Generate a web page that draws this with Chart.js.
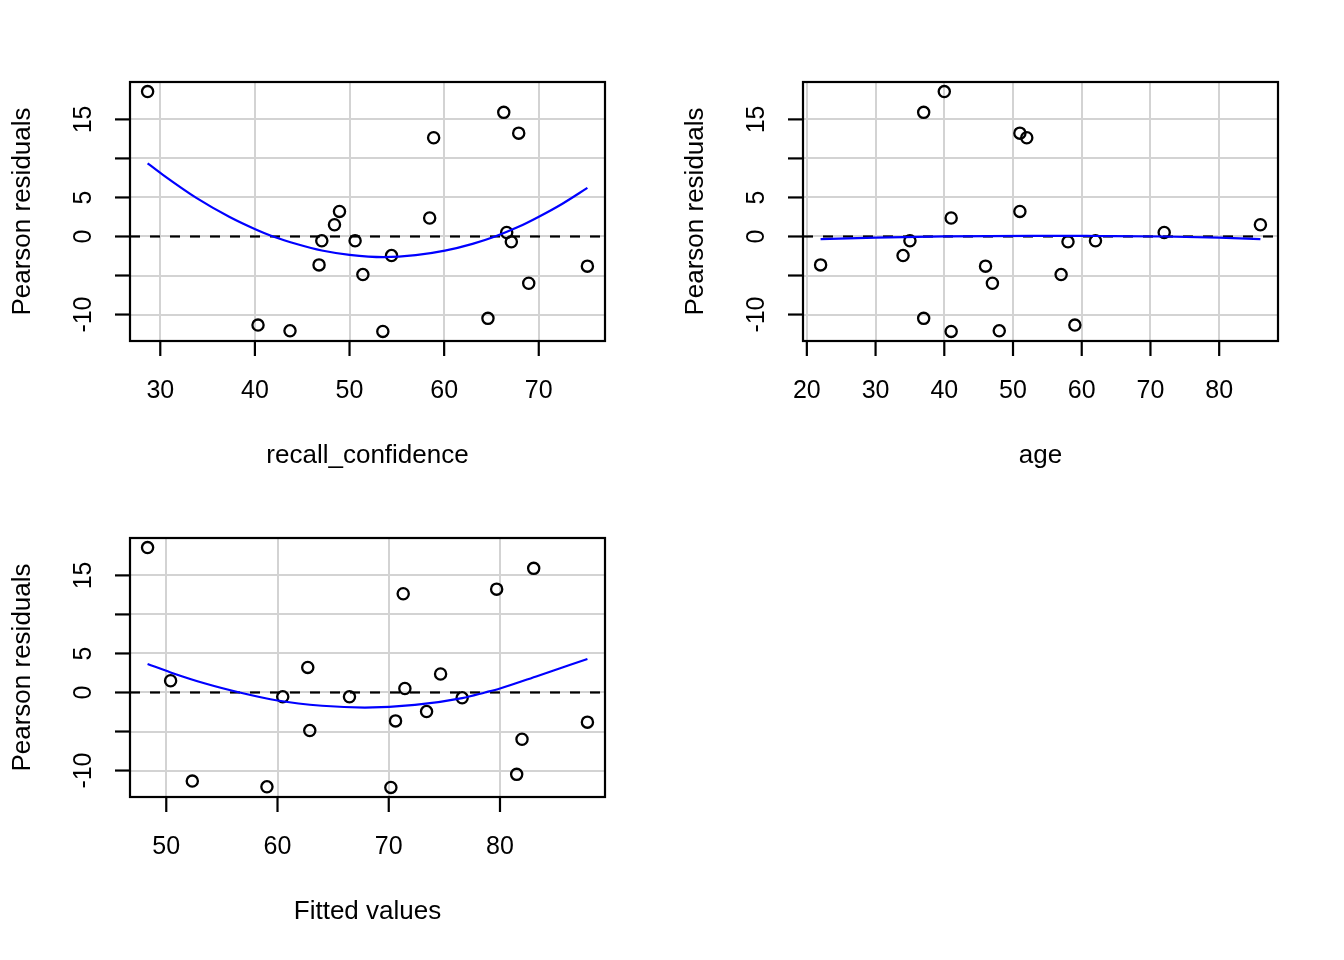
<!DOCTYPE html>
<html>
<head>
<meta charset="utf-8">
<script src="https://cdn.jsdelivr.net/npm/chart.js@4.4.1/dist/chart.umd.min.js"></script>
<style>
  body { margin: 0; background: #fff; width: 1344px; height: 960px; position: relative; overflow: hidden; }
  canvas { position: absolute; }
</style>
</head>
<body>
<canvas id="p1" width="672" height="480" style="left:0;top:0"></canvas>
<canvas id="p2" width="672" height="480" style="left:673px;top:0"></canvas>
<canvas id="p3" width="672" height="480" style="left:0;top:456px"></canvas>
<script>
// Pearson residuals, one per observation
const residuals = [18.56, -11.35, -12.08, -3.64, -0.55, 1.50, 3.21, -0.55, -4.88, -12.16,
                   -2.44, 2.37, 12.65, -10.49, 15.90, 0.51, -0.68, 13.24, -5.99, -3.80];
const recallConfidence = [28.66, 40.33, 43.71, 46.78, 47.07, 48.41, 48.94, 50.59, 51.41, 53.52,
                          54.44, 58.47, 58.89, 64.63, 66.30, 66.61, 67.10, 67.88, 68.94, 75.14];
const age = [40, 59, 48, 22, 35, 86, 51, 62, 57, 41, 34, 41, 52, 37, 37, 72, 58, 51, 47, 46];
const fittedValues = [48.32, 52.34, 59.05, 70.61, 60.47, 50.39, 62.72, 66.47, 62.90, 70.19,
                      73.40, 74.66, 71.30, 81.50, 83.03, 71.45, 76.60, 79.70, 81.98, 87.86];

// blue fitted curves
const curveRecallX = [28.66, 30.28, 33.81, 37.33, 39.98, 41.92, 44.5, 47.07, 50.0, 53.6, 57.0, 60.08, 63.0, 65.38, 67.8, 69.96, 72.5, 75.14];
const curveRecallY = [9.38, 7.9, 4.95, 2.5, 0.97, 0, -1.0, -1.8, -2.35, -2.64, -2.4, -1.82, -0.95, 0, 1.2, 2.5, 4.2, 6.22];
const curveAgeX = [22, 30, 40, 53, 62, 72, 80, 86];
const curveAgeY = [-0.34, -0.15, 0.02, 0.09, 0.06, 0, -0.15, -0.34];
const curveFitX = [48.32, 50.39, 53.5, 56.6, 60, 64.0, 67.85, 72.35, 76.6, 78.65, 80, 83.45, 87.86];
const curveFitY = [3.65, 2.57, 1.15, 0, -1.03, -1.7, -1.93, -1.6, -0.72, 0, 0.51, 2.15, 4.29];

// axis ticks
const residTicks = [-10, -5, 0, 5, 10, 15];
const residTickLabels = ['-10', '', '0', '5', '', '15'];
const recallTicks = [30, 40, 50, 60, 70];
const ageTicks = [20, 30, 40, 50, 60, 70, 80];
const fittedTicks = [50, 60, 70, 80];

const FONT = '"Liberation Sans", Arial, Helvetica, sans-serif';

// box, tick marks and labels drawn R-style around the plot region
const frame = {
  id: 'frame',
  afterDraw(chart, args, o) {
    const { ctx, chartArea: a, scales: { x, y } } = chart;
    ctx.save();
    ctx.strokeStyle = '#000';
    ctx.fillStyle = '#000';
    ctx.lineWidth = 2.2;
    ctx.strokeRect(a.left, a.top, a.right - a.left, a.bottom - a.top);

    ctx.font = '25px ' + FONT;
    ctx.textAlign = 'center';
    ctx.textBaseline = 'alphabetic';
    o.xTicks.forEach(v => {
      const px = x.getPixelForValue(v);
      ctx.beginPath(); ctx.moveTo(px, a.bottom); ctx.lineTo(px, a.bottom + 15); ctx.stroke();
      ctx.fillText(String(v), px, a.bottom + 56.5);
    });
    residTicks.forEach((v, i) => {
      const py = y.getPixelForValue(v);
      ctx.beginPath(); ctx.moveTo(a.left - 15, py); ctx.lineTo(a.left, py); ctx.stroke();
      if (!residTickLabels[i]) return;
      ctx.save();
      ctx.translate(a.left - 39, py);
      ctx.rotate(-Math.PI / 2);
      ctx.fillText(residTickLabels[i], 0, 0);
      ctx.restore();
    });

    ctx.font = '26px ' + FONT;
    ctx.fillText(o.xTitle, (a.left + a.right) / 2, a.bottom + 122);
    ctx.save();
    ctx.translate(a.left - 100.5, (a.top + a.bottom) / 2);
    ctx.rotate(-Math.PI / 2);
    ctx.fillText('Pearson residuals', 0, 0);
    ctx.restore();
    ctx.restore();
  }
};

function residualPlot(id, xs, cx, cy, xTicks, xMin, xMax, xTitle) {
  const points = xs.map((v, i) => ({ x: v, y: residuals[i] }));
  const curve = cx.map((v, i) => ({ x: v, y: cy[i] }));
  new Chart(document.getElementById(id), {
    type: 'scatter',
    data: {
      datasets: [
        {
          type: 'line',
          data: curve,
          borderColor: '#0000ff',
          borderWidth: 2.2,
          pointRadius: 0,
          cubicInterpolationMode: 'monotone',
          order: 1
        },
        {
          type: 'line',
          data: [{ x: xMin, y: 0 }, { x: xMax, y: 0 }],
          borderColor: '#000',
          borderWidth: 2.2,
          borderDash: [10, 10],
          pointRadius: 0,
          order: 2
        },
        {
          data: points,
          pointRadius: 5.6,
          pointBorderWidth: 2.3,
          pointBorderColor: '#000',
          pointBackgroundColor: 'rgba(0,0,0,0)',
          order: 3
        }
      ]
    },
    options: {
      responsive: false,
      animation: false,
      events: [],
      layout: { autoPadding: false, padding: { left: 130, right: 67, top: 82, bottom: 139 } },
      scales: {
        x: {
          type: 'linear',
          min: xMin,
          max: xMax,
          afterBuildTicks: s => { s.ticks = xTicks.map(v => ({ value: v })); },
          afterFit: s => { s.height = 0; },
          ticks: { display: false },
          grid: { color: '#d3d3d3', lineWidth: 2, drawTicks: false },
          border: { display: false }
        },
        y: {
          type: 'linear',
          min: -13.39,
          max: 19.79,
          afterBuildTicks: s => { s.ticks = residTicks.map(v => ({ value: v })); },
          afterFit: s => { s.width = 0; },
          ticks: { display: false },
          grid: { color: '#d3d3d3', lineWidth: 2, drawTicks: false },
          border: { display: false }
        }
      },
      plugins: {
        legend: { display: false },
        tooltip: { enabled: false },
        frame: { xTicks: xTicks, xTitle: xTitle }
      }
    },
    plugins: [frame]
  });
}

residualPlot('p1', recallConfidence, curveRecallX, curveRecallY, recallTicks, 26.80, 77.00, 'recall_confidence');
residualPlot('p2', age, curveAgeX, curveAgeY, ageTicks, 19.44, 88.56, 'age');
residualPlot('p3', fittedValues, curveFitX, curveFitY, fittedTicks, 46.74, 89.44, 'Fitted values');
</script>
</body>
</html>
